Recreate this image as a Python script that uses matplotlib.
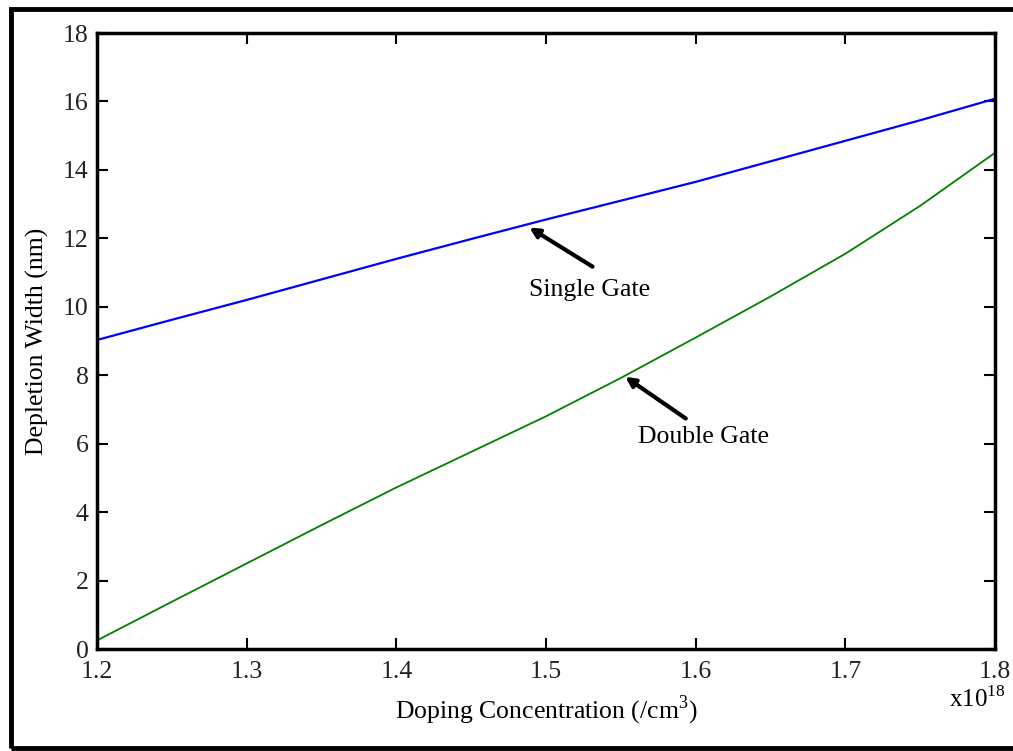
import matplotlib.pyplot as plt
from matplotlib.patches import Rectangle

plt.rcParams['font.family'] = ['Liberation Serif', 'DejaVu Serif']
plt.rcParams['mathtext.fontset'] = 'custom'
plt.rcParams['mathtext.rm'] = 'Liberation Serif'

# doping concentration (x1e18 /cm^3)
doping = [1.2, 1.25, 1.3, 1.35, 1.4, 1.45, 1.5, 1.55, 1.6, 1.65, 1.7, 1.75, 1.8]
# depletion width (nm)
single_gate = [9.03, 9.62, 10.2, 10.8, 11.4, 11.98, 12.55, 13.1, 13.65, 14.25, 14.85, 15.45, 16.08]
double_gate = [0.25, 1.38, 2.5, 3.62, 4.72, 5.76, 6.8, 7.92, 9.1, 10.3, 11.55, 12.95, 14.5]

xticks = [1.2, 1.3, 1.4, 1.5, 1.6, 1.7, 1.8]
yticks = [0, 2, 4, 6, 8, 10, 12, 14, 16, 18]

fig = plt.figure(figsize=(10.13, 7.51), dpi=100)
ax = fig.add_axes([97/1013, 1-649/751, 898/1013, 616/751])

ax.plot(doping, single_gate, color='#0000ff', lw=1.6)
ax.plot(doping, double_gate, color='#008000', lw=1.3)

ax.set_xlim(1.2, 1.8)
ax.set_ylim(0, 18)
ax.set_xticks(xticks)
ax.set_xticklabels([str(v) for v in xticks])
ax.set_yticks(yticks)
ax.tick_params(direction='in', length=8, width=1.5, top=True, right=True,
               labelsize=18.5, labelcolor='#222222')
ax.tick_params(axis='x', pad=9)
ax.tick_params(axis='y', pad=6)
for s in ax.spines.values():
    s.set_linewidth(2.5)

ax.set_xlabel('Doping Concentration (/cm$^\\mathrm{3}$)', fontsize=18.5, labelpad=7)
ax.set_ylabel('Depletion Width (nm)', fontsize=18.5, labelpad=10)
ax.text(1.012, -0.06, r'x10$^\mathrm{18}$', transform=ax.transAxes, ha='right',
        va='top', fontsize=18)

arrow = dict(arrowstyle='-|>', color='black', lw=3, mutation_scale=14)
ax.annotate('', xy=(1.4873, 12.36), xytext=(1.5327, 11.13), arrowprops=arrow)
ax.text(1.529, 10.49, 'Single Gate', ha='center', va='center', fontsize=18.5)
ax.annotate('', xy=(1.5514, 8.0), xytext=(1.5949, 6.69), arrowprops=arrow)
ax.text(1.6049, 6.2, 'Double Gate', ha='center', va='center', fontsize=18.5)

# outer frame
fig.patches.append(Rectangle((11/1013, 3/751), 1.2, 739/751, transform=fig.transFigure,
                             fill=False, edgecolor='black', lw=3.5))

fig.savefig('out.png', dpi=100)
